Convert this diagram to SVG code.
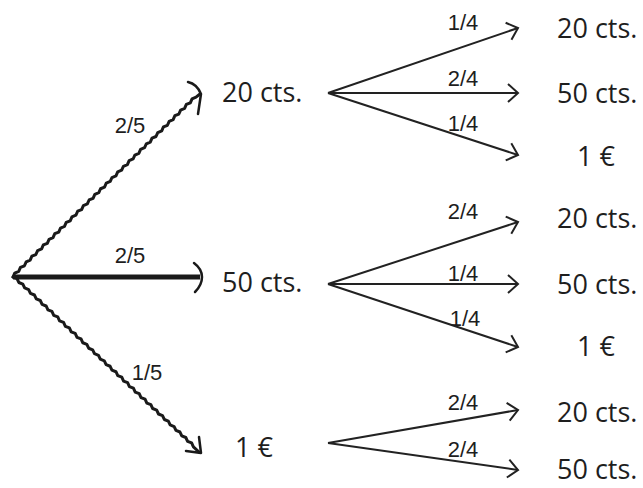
<svg xmlns="http://www.w3.org/2000/svg" width="643" height="488" viewBox="0 0 643 488">
<style>
.node{font-family:"Open Sans","Liberation Sans",sans-serif;font-size:27px;fill:#1e1e1e}
.lbl{font-family:"Liberation Sans",Arial,sans-serif;font-size:22px;fill:#1e1e1e;text-anchor:middle}
.thin{stroke:#222;stroke-width:2;fill:none}
.rough{stroke:#1a1a1a;stroke-width:3;fill:none;stroke-linejoin:round;stroke-linecap:round}
.head{stroke:#1a1a1a;stroke-width:2.5;fill:none;stroke-linecap:round;stroke-linejoin:round}
</style>
<defs>
<marker id="chev" markerUnits="userSpaceOnUse" markerWidth="24" markerHeight="24" viewBox="-12 -12 24 24" refX="0" refY="0" orient="auto">
<path d="M-10,-9 L0,0 L-10,9" fill="none" stroke="#222" stroke-width="2"/>
</marker>
</defs>
<g id="connectors">
<path class="rough" d="M13,277 l1.74,-3.95 3.98,-1.67 1.74,-3.95 3.98,-1.67 1.74,-3.95 3.98,-1.67 1.74,-3.95 3.98,-1.67
1.74,-3.95 3.98,-1.67 1.74,-3.95 3.98,-1.67 1.74,-3.95 3.98,-1.67 1.74,-3.95 3.98,-1.67
1.74,-3.95 3.98,-1.67 1.74,-3.95 3.98,-1.67 1.74,-3.95 3.98,-1.67 1.74,-3.95 3.98,-1.67
1.74,-3.95 3.98,-1.67 1.74,-3.95 3.98,-1.67 1.74,-3.95 3.98,-1.67 1.74,-3.95 3.98,-1.67
1.74,-3.95 3.98,-1.67 1.74,-3.95 3.98,-1.67 1.74,-3.95 3.98,-1.67 1.74,-3.95 3.98,-1.67
1.74,-3.95 3.98,-1.67 1.74,-3.95 3.98,-1.67 1.74,-3.95 3.98,-1.67 1.74,-3.95 3.98,-1.67
1.74,-3.95 3.98,-1.67 1.74,-3.95 3.98,-1.67 1.74,-3.95 3.98,-1.67 1.74,-3.95 3.98,-1.67
1.74,-3.95 3.98,-1.67 1.74,-3.95 3.98,-1.67 1.74,-3.95 3.98,-1.67 1.74,-3.95 3.98,-1.67 L200,94"/>
<path class="head" d="M188,82 Q197,84 201,94 L198,114"/>
<line x1="13" y1="277" x2="200" y2="277" stroke="#1a1a1a" stroke-width="5"/>
<path class="head" d="M194,263 Q202,269 202,277 Q202,285 195,292"/>
<path class="rough" d="M13,277 l4.01,1.58 1.81,3.9 4.01,1.58 1.81,3.9 4.01,1.58 1.81,3.9 4.01,1.58 1.81,3.9
4.01,1.58 1.81,3.9 4.01,1.58 1.81,3.9 4.01,1.58 1.81,3.9 4.01,1.58 1.81,3.9
4.01,1.58 1.81,3.9 4.01,1.58 1.81,3.9 4.01,1.58 1.81,3.9 4.01,1.58 1.81,3.9
4.01,1.58 1.81,3.9 4.01,1.58 1.81,3.9 4.01,1.58 1.81,3.9 4.01,1.58 1.81,3.9
4.01,1.58 1.81,3.9 4.01,1.58 1.81,3.9 4.01,1.58 1.81,3.9 4.01,1.58 1.81,3.9
4.01,1.58 1.81,3.9 4.01,1.58 1.81,3.9 4.01,1.58 1.81,3.9 4.01,1.58 1.81,3.9
4.01,1.58 1.81,3.9 4.01,1.58 1.81,3.9 4.01,1.58 1.81,3.9 4.01,1.58 1.81,3.9
4.01,1.58 1.81,3.9 4.01,1.58 1.81,3.9 4.01,1.58 1.81,3.9 L199,452"/>
<path class="head" d="M199,437 L201,453 L186,451"/>
<line class="thin" x1="328" y1="93" x2="518" y2="28" marker-end="url(#chev)"/>
<line class="thin" x1="328" y1="93" x2="518" y2="93" marker-end="url(#chev)"/>
<line class="thin" x1="328" y1="93" x2="518" y2="155" marker-end="url(#chev)"/>
<line class="thin" x1="328" y1="284" x2="518" y2="222" marker-end="url(#chev)"/>
<line class="thin" x1="328" y1="284" x2="518" y2="284" marker-end="url(#chev)"/>
<line class="thin" x1="328" y1="284" x2="518" y2="347" marker-end="url(#chev)"/>
<line class="thin" x1="328" y1="443" x2="518" y2="410" marker-end="url(#chev)"/>
<line class="thin" x1="328" y1="443" x2="518" y2="470" marker-end="url(#chev)"/>
<text class="lbl" x="130" y="133">2/5</text>
<text class="lbl" x="130" y="263">2/5</text>
<text class="lbl" x="147" y="380">1/5</text>
<text class="lbl" x="463" y="30">1/4</text>
<text class="lbl" x="463" y="86">2/4</text>
<text class="lbl" x="463" y="131">1/4</text>
<text class="lbl" x="463" y="219">2/4</text>
<text class="lbl" x="463" y="281">1/4</text>
<text class="lbl" x="465" y="326">1/4</text>
<text class="lbl" x="463" y="410">2/4</text>
<text class="lbl" x="463" y="457">2/4</text>
</g>
<g id="n-root"></g>
<g id="n-20"><text class="node" x="222" y="102">20 cts.</text></g>
<g id="n-50"><text class="node" x="222" y="292">50 cts.</text></g>
<g id="n-1e"><text class="node" x="235" y="457">1 €</text></g>
<g id="n-20-20"><text class="node" x="557" y="38">20 cts.</text></g>
<g id="n-20-50"><text class="node" x="557" y="103">50 cts.</text></g>
<g id="n-20-1e"><text class="node" x="577" y="166">1 €</text></g>
<g id="n-50-20"><text class="node" x="557" y="228">20 cts.</text></g>
<g id="n-50-50"><text class="node" x="557" y="294">50 cts.</text></g>
<g id="n-50-1e"><text class="node" x="577" y="356">1 €</text></g>
<g id="n-1e-20"><text class="node" x="557" y="422">20 cts.</text></g>
<g id="n-1e-50"><text class="node" x="557" y="479">50 cts.</text></g>
</svg>
